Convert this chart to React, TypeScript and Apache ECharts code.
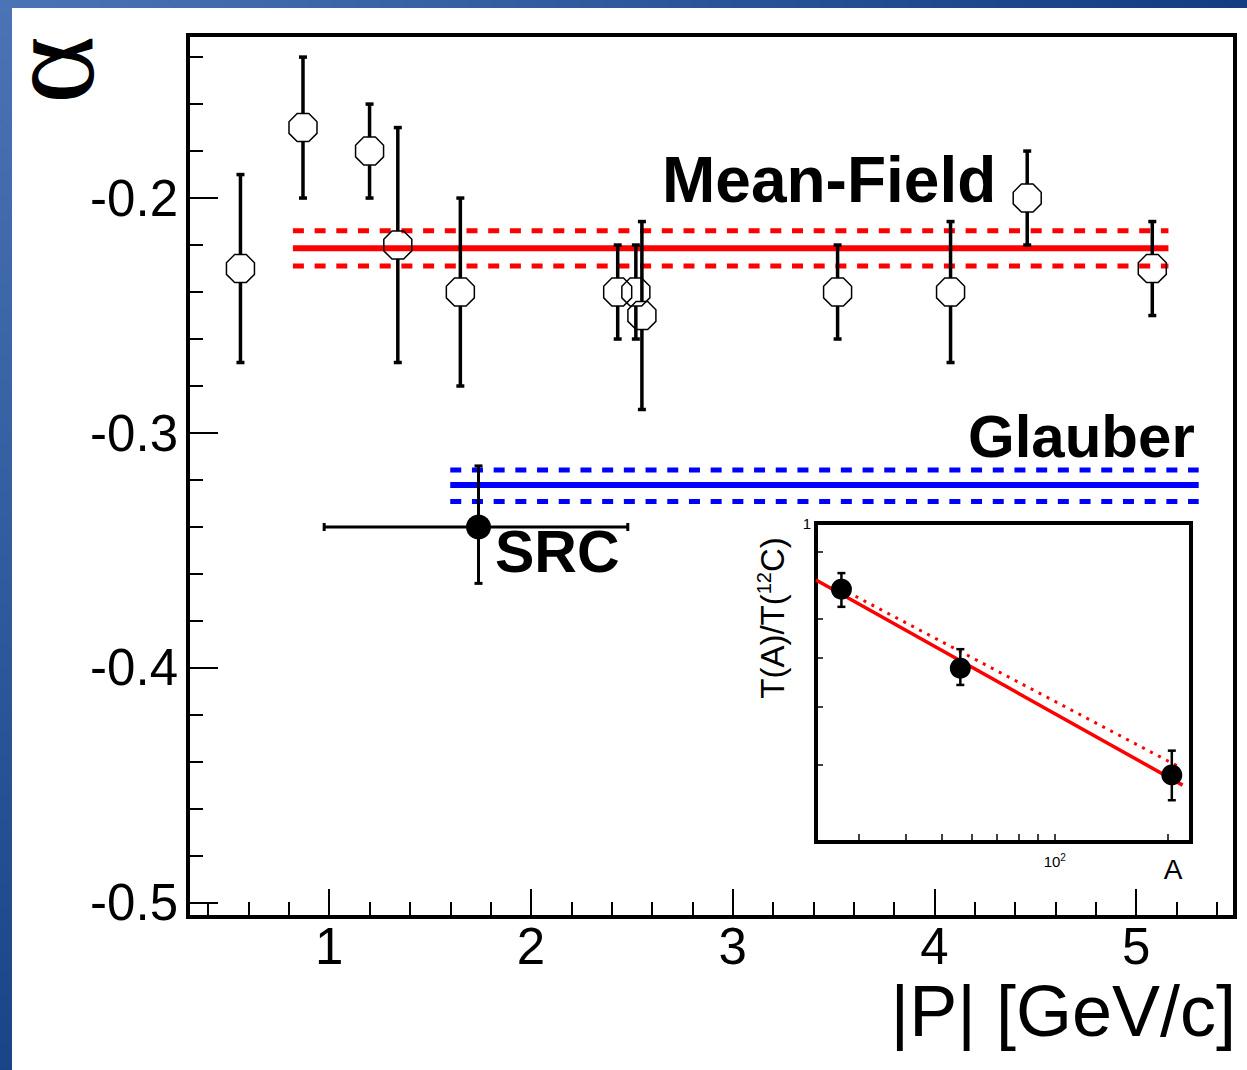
import React, { useEffect, useRef } from 'react';
import * as echarts from 'echarts';

// ---------------- main panel data ----------------
const pointP = [0.56, 0.87, 1.2, 1.34, 1.65, 2.43, 2.52, 2.55, 3.52, 4.08, 4.46, 5.08];
const pointAlpha = [-0.23, -0.17, -0.18, -0.22, -0.24, -0.24, -0.24, -0.25, -0.24, -0.24, -0.2, -0.23];
const pointLow = [-0.27, -0.2, -0.2, -0.27, -0.28, -0.26, -0.26, -0.29, -0.26, -0.27, -0.22, -0.25];
const pointHigh = [-0.19, -0.14, -0.16, -0.17, -0.2, -0.22, -0.22, -0.21, -0.22, -0.21, -0.18, -0.21];

const srcPoint = [1.74, -0.34];
const srcPRange = [0.975, 2.48];
const srcAlphaRange = [-0.364, -0.314];

const meanFieldP = [0.82, 5.16];
const meanFieldLevels = [-0.2139, -0.2214, -0.2289]; // upper, central, lower
const glauberP = [1.6, 5.31];
const glauberLevels = [-0.3157, -0.3221, -0.3292]; // upper, central, lower

const xRange = [0.3, 5.49];
const yRange = [-0.506, -0.1306];
const xMajorTicks = [1, 2, 3, 4, 5];
const xMinorTicks = [0.4, 0.6, 0.8, 1.2, 1.4, 1.6, 1.8, 2.2, 2.4, 2.6, 2.8, 3.2, 3.4, 3.6, 3.8, 4.2, 4.4, 4.6, 4.8, 5.2, 5.4];
const yMajorTicks = [-0.5, -0.4, -0.3, -0.2];
const yMinorTicks = [-0.48, -0.46, -0.44, -0.42, -0.38, -0.36, -0.34, -0.32, -0.28, -0.26, -0.24, -0.22, -0.18, -0.16, -0.14];

// ---------------- inset data ----------------
const insetA = [27, 56, 205];
const insetRatio = [0.827, 0.659, 0.485];
const insetLow = [0.786, 0.628, 0.451];
const insetHigh = [0.866, 0.696, 0.52];
const fitSolidA = [23.1, 219];
const fitSolidT = [0.849, 0.471];
const fitDottedA = [26.7, 215];
const fitDottedT = [0.83, 0.496];
const insetARange = [23.1, 230.6];
const insetTRange = [0.4, 1];
const insetATicks = [30, 40, 50, 60, 70, 80, 90, 100, 200];
const insetALabels = [100];
const insetTTicks = [0.5, 0.59, 0.68, 0.76, 0.92];
const insetTLabels = [1];

const FONT = '"Liberation Sans", Arial, Helvetica, sans-serif';
const OCTAGON = 'path://M29.3,0L70.7,0L100,29.3L100,70.7L70.7,100L29.3,100L0,70.7L0,29.3Z';

function vErrorRender(gap: number, lw: number, cap: number) {
  return (params: any, api: any) => {
    const x = api.value(0);
    const y = api.value(1);
    const lo = api.value(2);
    const hi = api.value(3);
    const c = api.coord([x, y]);
    const top = api.coord([x, hi]);
    const bot = api.coord([x, lo]);
    const st = { stroke: '#000', lineWidth: lw };
    const ch: any[] = [];
    if (c[1] - gap > top[1]) ch.push({ type: 'line', shape: { x1: c[0], y1: top[1], x2: c[0], y2: c[1] - gap }, style: st });
    if (bot[1] > c[1] + gap) ch.push({ type: 'line', shape: { x1: c[0], y1: c[1] + gap, x2: c[0], y2: bot[1] }, style: st });
    ch.push({ type: 'line', shape: { x1: c[0] - cap, y1: top[1], x2: c[0] + cap, y2: top[1] }, style: st });
    ch.push({ type: 'line', shape: { x1: c[0] - cap, y1: bot[1], x2: c[0] + cap, y2: bot[1] }, style: st });
    return { type: 'group', children: ch };
  };
}

function srcRender(params: any, api: any) {
  const x = api.value(0);
  const y = api.value(1);
  const l = api.coord([api.value(2), y]);
  const r = api.coord([api.value(3), y]);
  const b = api.coord([x, api.value(4)]);
  const t = api.coord([x, api.value(5)]);
  const st = { stroke: '#000', lineWidth: 3 };
  const cap = 4;
  return {
    type: 'group',
    children: [
      { type: 'line', shape: { x1: l[0], y1: l[1], x2: r[0], y2: r[1] }, style: st },
      { type: 'line', shape: { x1: t[0], y1: t[1], x2: b[0], y2: b[1] }, style: st },
      { type: 'line', shape: { x1: l[0], y1: l[1] - cap, x2: l[0], y2: l[1] + cap }, style: st },
      { type: 'line', shape: { x1: r[0], y1: r[1] - cap, x2: r[0], y2: r[1] + cap }, style: st },
      { type: 'line', shape: { x1: t[0] - cap, y1: t[1], x2: t[0] + cap, y2: t[1] }, style: st },
      { type: 'line', shape: { x1: b[0] - cap, y1: b[1], x2: b[0] + cap, y2: b[1] }, style: st },
    ],
  };
}

function hLine(xs: number[], y: number, color: string, width: number, type: any, xi: number, yi: number) {
  return {
    type: 'line',
    xAxisIndex: xi,
    yAxisIndex: yi,
    data: xs.map((x) => [x, y]),
    symbol: 'none',
    silent: true,
    z: 2,
    lineStyle: { color, width, type },
  };
}

function buildOption(): any {
  const tickStyle = { color: '#000', width: 2 };
  return {
    animation: false,
    backgroundColor: 'transparent',
    grid: [
      { left: 188, top: 35, width: 1047, height: 882, show: true, borderColor: '#000', borderWidth: 4, backgroundColor: 'transparent' },
      { left: 816, top: 523, width: 375, height: 319, show: true, borderColor: '#000', borderWidth: 4, backgroundColor: '#fff' },
    ],
    xAxis: [
      {
        type: 'value', gridIndex: 0, min: xRange[0], max: xRange[1], position: 'bottom',
        axisLine: { show: true, lineStyle: { color: '#000', width: 4 } },
        axisTick: { show: true, inside: true, length: 28, customValues: xMajorTicks, lineStyle: tickStyle },
        axisLabel: { customValues: xMajorTicks, fontSize: 51, fontFamily: FONT, color: '#000', margin: 4 },
        splitLine: { show: false },
      },
      {
        type: 'value', gridIndex: 0, min: xRange[0], max: xRange[1], position: 'bottom',
        axisLine: { show: false },
        axisTick: { show: true, inside: true, length: 15, customValues: xMinorTicks, lineStyle: tickStyle },
        axisLabel: { show: false },
        splitLine: { show: false },
      },
      {
        type: 'log', gridIndex: 1, min: insetARange[0], max: insetARange[1], logBase: 10, position: 'bottom',
        axisLine: { show: false },
        axisTick: { show: true, inside: true, length: 8, customValues: insetATicks, lineStyle: { color: '#000', width: 1.5 } },
        axisLabel: {
          customValues: insetALabels,
          formatter: () => '{b|10}{s|2}',
          margin: 10,
          rich: {
            b: { fontSize: 15, fontFamily: FONT, color: '#000' },
            s: { fontSize: 10, fontFamily: FONT, color: '#000', padding: [0, 0, 9, 0] },
          },
        },
        splitLine: { show: false },
      },
    ],
    yAxis: [
      {
        type: 'value', gridIndex: 0, min: yRange[0], max: yRange[1], position: 'left',
        axisLine: { show: true, lineStyle: { color: '#000', width: 4 } },
        axisTick: { show: true, inside: true, length: 30, customValues: yMajorTicks, lineStyle: tickStyle },
        axisLabel: { customValues: yMajorTicks, fontSize: 51, fontFamily: FONT, color: '#000', margin: 10 },
        splitLine: { show: false },
      },
      {
        type: 'value', gridIndex: 0, min: yRange[0], max: yRange[1], position: 'left',
        axisLine: { show: false },
        axisTick: { show: true, inside: true, length: 15, customValues: yMinorTicks, lineStyle: tickStyle },
        axisLabel: { show: false },
        splitLine: { show: false },
      },
      {
        type: 'log', gridIndex: 1, min: insetTRange[0], max: insetTRange[1], logBase: 10, position: 'left',
        axisLine: { show: false },
        axisTick: { show: true, inside: true, length: 7, customValues: insetTTicks, lineStyle: { color: '#000', width: 1.5 } },
        axisLabel: { customValues: insetTLabels, fontSize: 15, fontFamily: FONT, color: '#000', margin: 5 },
        splitLine: { show: false },
      },
    ],
    series: [
      // Mean-Field band
      hLine(meanFieldP, meanFieldLevels[0], '#ff0000', 5, [11, 10.7], 0, 0),
      hLine(meanFieldP, meanFieldLevels[1], '#ff0000', 6, 'solid', 0, 0),
      hLine(meanFieldP, meanFieldLevels[2], '#ff0000', 5, [11, 10.7], 0, 0),
      // Glauber band
      hLine(glauberP, glauberLevels[0], '#0000ff', 5, [11, 10.7], 0, 0),
      hLine(glauberP, glauberLevels[1], '#0000ff', 6, 'solid', 0, 0),
      hLine(glauberP, glauberLevels[2], '#0000ff', 5, [11, 10.7], 0, 0),
      {
        type: 'custom', xAxisIndex: 0, yAxisIndex: 0, z: 3, silent: true,
        renderItem: vErrorRender(14, 3.5, 4),
        data: pointP.map((p, i) => [p, pointAlpha[i], pointLow[i], pointHigh[i]]),
      },
      {
        type: 'scatter', xAxisIndex: 0, yAxisIndex: 0, z: 4, silent: true,
        symbol: OCTAGON, symbolSize: 28,
        itemStyle: { color: 'rgba(0,0,0,0)', borderColor: '#000', borderWidth: 1.5, opacity: 1 },
        data: pointP.map((p, i) => [p, pointAlpha[i]]),
      },
      {
        type: 'custom', xAxisIndex: 0, yAxisIndex: 0, z: 3, silent: true,
        renderItem: srcRender,
        data: [[srcPoint[0], srcPoint[1], srcPRange[0], srcPRange[1], srcAlphaRange[0], srcAlphaRange[1]]],
      },
      {
        type: 'scatter', xAxisIndex: 0, yAxisIndex: 0, z: 4, silent: true,
        symbol: 'circle', symbolSize: 25,
        itemStyle: { color: '#000', opacity: 1 },
        data: [srcPoint],
      },
      // inset
      {
        type: 'line', xAxisIndex: 2, yAxisIndex: 2, symbol: 'none', silent: true, z: 2,
        lineStyle: { color: '#ff0000', width: 3, type: [3, 6] },
        data: fitDottedA.map((a, i) => [a, fitDottedT[i]]),
      },
      {
        type: 'line', xAxisIndex: 2, yAxisIndex: 2, symbol: 'none', silent: true, z: 2,
        lineStyle: { color: '#ff0000', width: 3.5 },
        data: fitSolidA.map((a, i) => [a, fitSolidT[i]]),
      },
      {
        type: 'custom', xAxisIndex: 2, yAxisIndex: 2, z: 3, silent: true,
        renderItem: vErrorRender(0, 2.5, 4),
        data: insetA.map((a, i) => [a, insetRatio[i], insetLow[i], insetHigh[i]]),
      },
      {
        type: 'scatter', xAxisIndex: 2, yAxisIndex: 2, z: 4, silent: true,
        symbol: 'circle', symbolSize: 21,
        itemStyle: { color: '#000', opacity: 1 },
        data: insetA.map((a, i) => [a, insetRatio[i]]),
      },
    ],
    graphic: [
      {
        type: 'text', x: 77, y: 70, rotation: Math.PI / 2, scaleY: -1, z: 100,
        style: { text: '\u03b1', font: 'normal 130px "Liberation Serif", "DejaVu Serif", serif', fill: '#000', align: 'center', verticalAlign: 'middle', textAlign: 'center', textVerticalAlign: 'middle' },
      },
      {
        type: 'text', x: 1236, y: 1011, z: 100,
        style: { text: '|P| [GeV/c]', font: `normal 72px ${FONT}`, fill: '#000', align: 'right', verticalAlign: 'middle', textAlign: 'right', textVerticalAlign: 'middle' },
      },
      {
        type: 'text', x: 662, y: 180, z: 100,
        style: { text: 'Mean-Field', font: `bold 64px ${FONT}`, fill: '#000', align: 'left', verticalAlign: 'middle', textAlign: 'left', textVerticalAlign: 'middle' },
      },
      {
        type: 'text', x: 968, y: 436, z: 100,
        style: { text: 'Glauber', font: `bold 60px ${FONT}`, fill: '#000', align: 'left', verticalAlign: 'middle', textAlign: 'left', textVerticalAlign: 'middle' },
      },
      {
        type: 'text', x: 495, y: 552, z: 100,
        style: { text: 'SRC', font: `bold 59px ${FONT}`, fill: '#000', align: 'left', verticalAlign: 'middle', textAlign: 'left', textVerticalAlign: 'middle' },
      },
      {
        type: 'text', x: 772, y: 618, rotation: Math.PI / 2, z: 100,
        style: {
          text: '{n|T(A)/T(}{s|12}{n|C)}',
          align: 'center', verticalAlign: 'middle', textAlign: 'center', textVerticalAlign: 'middle',
          rich: {
            n: { fontSize: 33, fontFamily: FONT, fill: '#000' },
            s: { fontSize: 20, fontFamily: FONT, fill: '#000', padding: [0, 0, 16, 0] },
          },
        },
      },
      {
        type: 'text', x: 1173, y: 869, z: 100,
        style: { text: 'A', font: `normal 28px ${FONT}`, fill: '#000', align: 'center', verticalAlign: 'middle', textAlign: 'center', textVerticalAlign: 'middle' },
      },
    ],
  };
}

export default function App() {
  const ref = useRef<HTMLDivElement>(null);
  useEffect(() => {
    document.body.style.margin = '0';
    const chart = echarts.init(ref.current as HTMLDivElement, undefined, { renderer: 'svg' });
    chart.setOption(buildOption());
    return () => {
      chart.dispose();
    };
  }, []);
  return (
    <div
      style={{
        position: 'relative',
        width: 1247,
        height: 1070,
        overflow: 'hidden',
        background: 'radial-gradient(circle at 0px 0px, #4a74b6 0px, #0a377a 1400px)',
      }}
    >
      <div style={{ position: 'absolute', left: 12, top: 8, right: 0, bottom: 0, background: '#fff' }} />
      <div ref={ref} style={{ position: 'absolute', left: 0, top: 0, width: 1247, height: 1070 }} />
    </div>
  );
}
